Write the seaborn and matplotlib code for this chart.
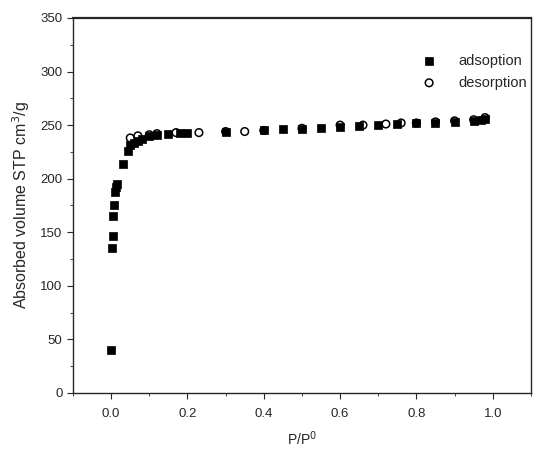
import numpy as np
import pandas as pd
import matplotlib
matplotlib.use("Agg")
import matplotlib.pyplot as plt
from matplotlib.ticker import MultipleLocator
import seaborn as sns

# adsorption branch (filled squares)
ads_p = [0.0, 0.002, 0.004, 0.006, 0.008, 0.01, 0.012, 0.015, 0.03, 0.044, 0.05, 0.06,
         0.07, 0.08, 0.1, 0.12, 0.15, 0.18, 0.2, 0.3, 0.4, 0.45, 0.5, 0.55, 0.6,
         0.65, 0.7, 0.75, 0.8, 0.85, 0.9, 0.95, 0.97, 0.98]
ads_v = [40, 135, 146, 165, 175, 188, 192, 195, 214, 226, 231, 233,
         235, 237, 240, 241, 242, 243, 243, 244, 245, 246, 246, 247, 248,
         249, 250, 251, 252, 252, 253, 254, 255, 256]

# desorption branch (open circles)
des_p = [0.98, 0.95, 0.9, 0.85, 0.8, 0.76, 0.72, 0.66, 0.6, 0.5, 0.4, 0.35,
         0.3, 0.23, 0.17, 0.12, 0.1, 0.07, 0.05]
des_v = [257, 255, 254, 253, 252, 252, 251, 250, 250, 247, 245, 244,
         244, 243, 243, 242, 241, 240, 238]

ads = pd.DataFrame({"p": ads_p, "v": ads_v})
des = pd.DataFrame({"p": des_p, "v": des_v})

sns.set_style("ticks")
plt.rcParams["font.family"] = ["Liberation Sans", "DejaVu Sans"]

fig = plt.figure(figsize=(5.33, 4.5), dpi=100)
ax = fig.add_axes([0.137, 0.127, 0.859, 0.833])

sns.scatterplot(data=ads, x="p", y="v", marker="s", color="black", s=26,
                edgecolor="black", linewidth=0.5, ax=ax, label="adsoption")
sns.scatterplot(data=des, x="p", y="v", marker="o", facecolors="none",
                edgecolor="black", linewidth=1.1, s=30, ax=ax, label="desorption")

ax.set_xlim(-0.1, 1.1)
ax.set_ylim(0, 350)
ax.xaxis.set_major_locator(MultipleLocator(0.2))
ax.xaxis.set_minor_locator(MultipleLocator(0.1))
ax.yaxis.set_major_locator(MultipleLocator(50))
ax.yaxis.set_minor_locator(MultipleLocator(25))
ax.tick_params(which="both", direction="out", top=False, right=False, labelsize=9.5)
ax.tick_params(axis="x", pad=7)
ax.tick_params(which="major", length=4)
ax.tick_params(which="minor", length=2.5)

for sp in ax.spines.values():
    sp.set_visible(True)
    sp.set_linewidth(1.0)
ax.spines["top"].set_linewidth(1.6)

ax.set_xlabel("P/P$^0$", fontsize=10, labelpad=7)
ax.set_ylabel("Absorbed volume STP cm$^3$/g", fontsize=11.5, labelpad=6)

ax.legend(loc="upper right", frameon=False, fontsize=10.5, handletextpad=1.0,
          labelspacing=0.55, bbox_to_anchor=(1.02, 0.94))

fig.savefig("out.png", dpi=100)
